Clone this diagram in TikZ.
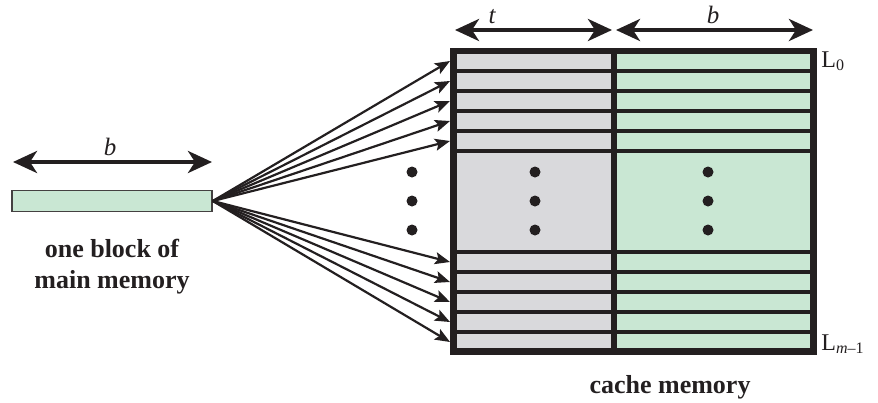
\documentclass[tikz,border=0pt]{standalone}
\usepackage{fontspec}
\setmainfont{Liberation Serif}
\usetikzlibrary{arrows.meta,positioning}
\definecolor{tagfill}{RGB}{217,217,220}
\definecolor{linefill}{RGB}{201,231,211}
\definecolor{inkdark}{RGB}{35,31,32}

\begin{document}
\begin{tikzpicture}[x=0.5pt, y=-0.5pt,
  dimarrow/.style={{Stealth[length=12pt,width=11pt,inset=3.5pt]}-{Stealth[length=12pt,width=11pt,inset=3.5pt]},
    line width=2pt, draw=inkdark},
  fanarrow/.style={-{Stealth[length=7.5pt,width=6pt,inset=1.5pt]}, line width=1.1pt, draw=inkdark},
  rowline/.style={line width=1.7pt, draw=inkdark},
  bigdot/.style={circle, fill=inkdark, inner sep=0pt, minimum size=5.5pt},
  memblock/.style={draw=inkdark!85, fill=linefill, line width=0.8pt,
    minimum width=100pt, minimum height=10.5pt, inner sep=0pt},
  caption/.style={font=\fontsize{13}{15.5}\selectfont\bfseries, align=center,
    text=inkdark, inner sep=0pt},
  dimlabel/.style={font=\fontsize{12.5}{14}\selectfont\itshape, text=inkdark, inner sep=0pt},
  linelabel/.style={font=\fontsize{12}{14}\selectfont, text=inkdark, inner sep=0pt, anchor=base west}]

\useasboundingbox (0,0) rectangle (878,402);

% one block of main memory
\node[memblock] (blk) at (112,201) {};
\node[caption, below=13pt of blk] (blkcap) {one block of\\main memory};
\coordinate (blkl) at (13,162);
\coordinate (blkr) at (212,162);
\draw[dimarrow] (blkl) -- (blkr);
\node[dimlabel, anchor=base] (blkb) at (110,155) {b};

% cache memory
\fill[tagfill] (453.5,51) rectangle (614,351.5);
\fill[linefill] (614,51) rectangle (813.5,351.5);
\foreach \y in {71,91,111,131,151,252,272,292,312,332}
  \draw[rowline] (453.5,\y) -- (813.5,\y);
\draw[line width=2.8pt, draw=inkdark] (614,51) -- (614,351.5);
\draw[line width=3.2pt, draw=inkdark] (453.5,51) rectangle (813.5,351.5);

\node[linelabel] (l0) at (821,67) {L\textsubscript{0}};
\node[linelabel] (lm) at (821,350) {L\textsubscript{\textit{m}–1}};
\node[caption, anchor=north] (cachecap) at (670,375) {cache memory};

% tag and block widths
\coordinate (tl) at (455,30);
\coordinate (tr) at (612,30);
\coordinate (bl) at (616,30);
\coordinate (br) at (813,30);
\draw[dimarrow] (tl) -- (tr);
\draw[dimarrow] (bl) -- (br);
\node[dimlabel, anchor=base] (tlab) at (492,23) {t};
\node[dimlabel, anchor=base] (blab) at (713,23) {b};

% fan of arrows to the lines
\foreach \y [count=\i] in {61,81,101,121,141,262,282,302,322,342} {
  \coordinate (in\i) at (450,\y);
  \draw[fanarrow] (blk.east) -- (in\i);
}

% dots
\foreach \x in {412,535,708}
  \foreach \y in {172,201,230}
    \node[bigdot] (dot-\x-\y) at (\x,\y) {};
\end{tikzpicture}
\end{document}
